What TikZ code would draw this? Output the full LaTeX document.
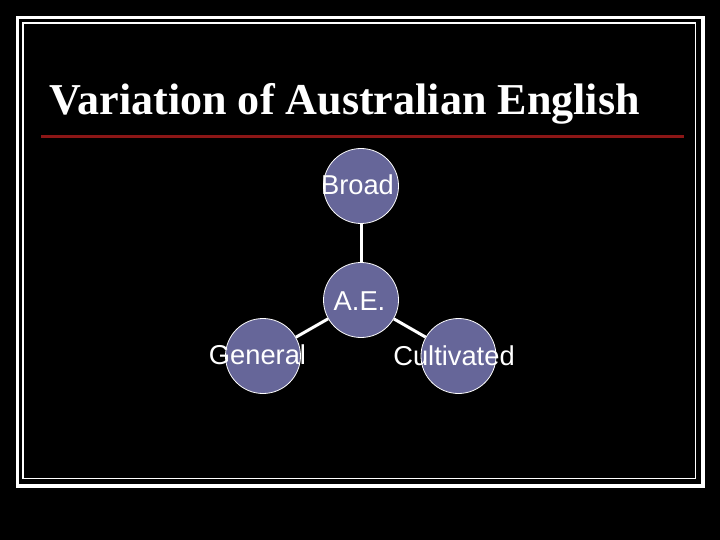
\documentclass[tikz,border=0pt]{standalone}
\usepackage{fontspec}
\setmainfont{Liberation Serif}
\setsansfont{Liberation Sans}
\definecolor{bubble}{RGB}{102,102,153}
\definecolor{rule}{RGB}{140,22,22}
\begin{document}
\begin{tikzpicture}[x=1bp,y=-1bp,
  bubble/.style={circle,fill=bubble,draw=white,line width=0.8bp,minimum size=75bp,inner sep=0pt},
  blabel/.style={text=white,font=\sffamily\fontsize{27.3bp}{30bp}\selectfont,inner sep=0pt,anchor=base},
  link/.style={draw=white,line width=3bp}]
\useasboundingbox (0,0) rectangle (720,540);
\fill[black] (0,0) rectangle (720,540);
% frames
\draw[white,line width=3.6bp] (17.6,17.6) rectangle (703,486);
\draw[white,line width=1.5bp] (23,23) rectangle (695.5,478.5);
% title
\node[text=white,font=\bfseries\fontsize{44.1bp}{48bp}\selectfont,inner sep=0pt,anchor=base west] (title) at (49.5,115) {Variation of Australian English};
\coordinate (ruleL) at (41,136.5);
\coordinate (ruleR) at (684,136.5);
\draw[rule,line width=2.2bp] (ruleL) -- (ruleR);
% bubbles
\node[bubble] (broad) at (361,186) {};
\node[bubble] (ae) at (361,300) {};
\node[bubble] (general) at (263,356) {};
\node[bubble] (cultivated) at (458.5,356) {};
\draw[link] (broad) -- (ae);
\draw[link] (ae) -- (general);
\draw[link] (ae) -- (cultivated);
% labels
\node[blabel] (tbroad) at (357.5,195) {Broad};
\node[blabel] (tae) at (359.5,310) {A.E.};
\node[blabel] (tgeneral) at (257.5,364.5) {General};
\node[blabel] (tcultivated) at (454,365) {Cultivated};
\end{tikzpicture}
\end{document}
